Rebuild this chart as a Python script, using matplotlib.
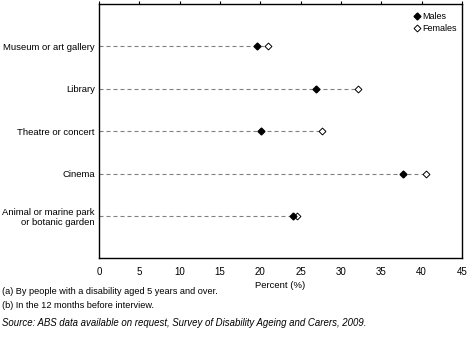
import numpy as np
import matplotlib.pyplot as plt

plt.rcParams['font.family'] = ['Liberation Sans', 'DejaVu Sans']

# Données
categories = ["Museum or art gallery", "Library", "Theatre or concert", "Cinema",
              "Animal or marine park\nor botanic garden"]
hommes = [19.6, 26.9, 20.1, 37.7, 24.1]
femmes = [21.0, 32.1, 27.6, 40.5, 24.6]
graduations = [0, 5, 10, 15, 20, 25, 30, 35, 40, 45]

fig = plt.figure(figsize=(4.72, 3.4), dpi=100)
ax = fig.add_axes([0.2097, 0.241, 0.7691, 0.747])

y = np.arange(len(categories))
fin = np.maximum(hommes, femmes)

# Lignes pointillées jusqu'à la valeur la plus grande
ax.hlines(y, 0, fin, colors='#808080', linestyles=(0, (3.6, 2.7)), linewidth=0.8, zorder=1)

ax.plot(hommes, y, linestyle='none', marker='D', markersize=3.5,
        color='black', label='Males', zorder=3)
ax.plot(femmes, y, linestyle='none', marker='D', markersize=3.5,
        markerfacecolor='white', markeredgecolor='black', markeredgewidth=0.7,
        label='Females', zorder=2)

ax.set_xlim(0, 45)
ax.set_ylim(len(categories) - 0.01, -0.99)
ax.set_xticks(graduations)
ax.set_yticks(y)
ax.set_yticklabels(categories, fontsize=6.8)
ax.tick_params(axis='y', length=0, pad=3)
ax.tick_params(axis='x', bottom=False, top=True, labelbottom=True, labeltop=False,
               direction='out', length=2.5, width=0.8, labelsize=7, pad=4)
for s in ax.spines.values():
    s.set_linewidth(1.0)

ax.set_xlabel('Percent (%)', fontsize=6.8, labelpad=3)

ax.legend(loc='upper right', bbox_to_anchor=(1.011, 1.004), frameon=False,
          fontsize=6.5, handletextpad=0.1, handlelength=1.0,
          borderaxespad=0.6, labelspacing=0.3)

# Notes
fig.text(0.004, 1 - 292 / 340, '(a) By people with a disability aged 5 years and over.',
         fontsize=6.6, va='center')
fig.text(0.004, 1 - 305 / 340, '(b) In the 12 months before interview.',
         fontsize=6.6, va='center')
fig.text(0.004, 1 - 323 / 340,
         'Source: ABS data available on request, Survey of Disability Ageing and Carers, 2009.',
         fontsize=6.9, va='center', style='italic')

fig.savefig('out.png', dpi=100)
